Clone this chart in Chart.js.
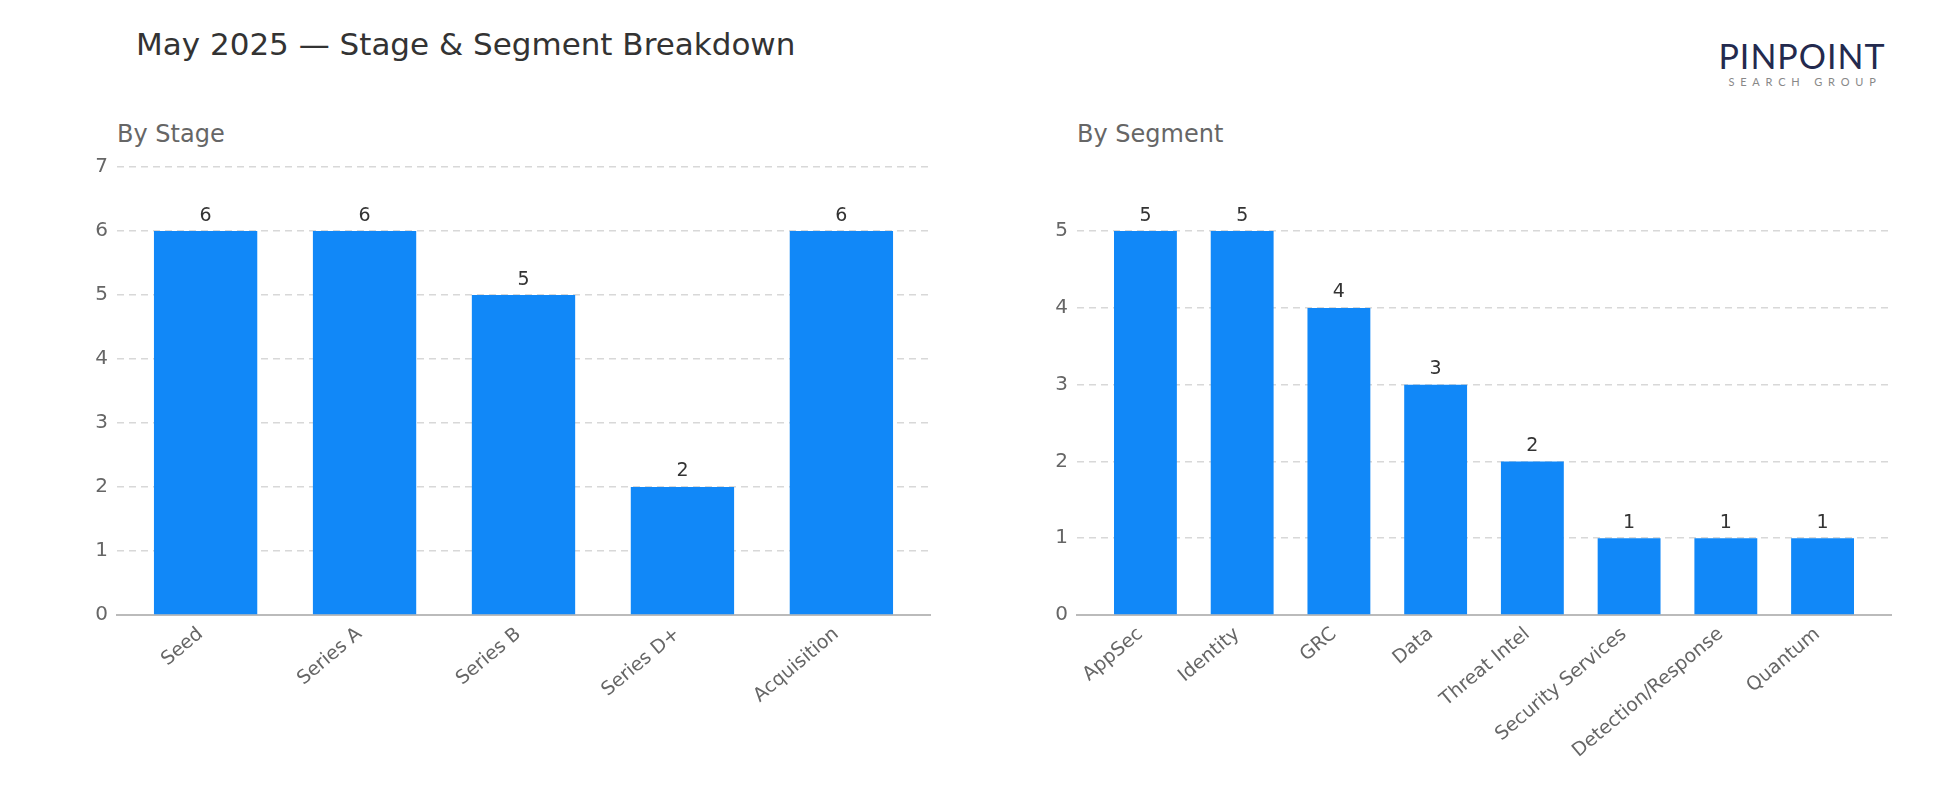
<!DOCTYPE html>
<html>
<head>
<meta charset="utf-8">
<script src="https://cdn.jsdelivr.net/npm/chart.js@4.4.0/dist/chart.umd.min.js"></script>
<style>
  body { margin: 0; background: #fff; width: 1950px; height: 810px; overflow: hidden; position: relative; font-family: "DejaVu Sans", sans-serif; }
  .box { position: absolute; }
  #title { left: 136px; top: 29px; font-size: 31px; color: #333; line-height: 31px; white-space: nowrap; }
  .sub { font-size: 24px; color: #666; line-height: 24px; white-space: nowrap; }
  #logo { left: 1716px; top: 39px; width: 172px; text-align: center; }
  #logo .big { font-family: "Lato", sans-serif; font-weight: 400; font-size: 34px; color: #232a4e; letter-spacing: 1px; line-height: 34px; }
  #logo .small { font-family: "Lato", sans-serif; font-size: 11px; color: #888; letter-spacing: 5.8px; line-height: 12px; margin-top: 3px; padding-left: 6px; }
</style>
</head>
<body>
<div id="title" class="box">May 2025 — Stage &amp; Segment Breakdown</div>
<div class="box sub" style="left:117px; top:122px;">By Stage</div>
<div class="box sub" style="left:1077px; top:122px;">By Segment</div>
<div id="logo" class="box"><div class="big">PINPOINT</div><div class="small">SEARCH GROUP</div></div>
<div class="box" style="left:0; top:0; width:960px; height:810px;"><canvas id="c1"></canvas></div>
<div class="box" style="left:960px; top:0; width:990px; height:810px;"><canvas id="c2"></canvas></div>
<script>
// by stage
var stageLabels = ["Seed", "Series A", "Series B", "Series D+", "Acquisition"];
var stageCounts = [6, 6, 5, 2, 6];
// by segment
var segmentLabels = ["AppSec", "Identity", "GRC", "Data", "Threat Intel", "Security Services", "Detection/Response", "Quantum"];
var segmentCounts = [5, 5, 4, 3, 2, 1, 1, 1];

var barColor = "#1188f8";
var barWidth = 0.65;

// value labels above each bar
var valueLabels = {
  id: "valueLabels",
  afterDatasetsDraw: function(chart) {
    var ctx = chart.ctx;
    var meta = chart.getDatasetMeta(0);
    var ds = chart.data.datasets[0];
    ctx.save();
    ctx.font = "19px 'DejaVu Sans'";
    ctx.fillStyle = "#333";
    ctx.textAlign = "center";
    ctx.textBaseline = "bottom";
    meta.data.forEach(function(bar, i) {
      ctx.fillText(ds.data[i].y, bar.x, bar.y - 6);
    });
    ctx.restore();
  }
};

function makeChart(id, labels, counts, padRight) {
  var n = labels.length;
  var span = (n - 1) + barWidth;
  var lo = -barWidth / 2 - 0.05 * span;
  var hi = (n - 1) + barWidth / 2 + 0.05 * span;
  var yMax = Math.max.apply(null, counts) * 1.18;
  var pts = counts.map(function(v, i) { return { x: i, y: v }; });

  return new Chart(document.getElementById(id), {
    type: "bar",
    data: {
      datasets: [{
        data: pts,
        backgroundColor: barColor,
        borderWidth: 0,
        barPercentage: barWidth,
        categoryPercentage: 1
      }]
    },
    options: {
      responsive: true,
      maintainAspectRatio: false,
      animation: false,
      layout: { padding: { left: 0, top: 162, right: padRight, bottom: 0 } },
      plugins: { legend: { display: false }, tooltip: { enabled: false } },
      scales: {
        x: {
          type: "linear",
          offset: false,
          min: lo,
          max: hi,
          grid: { display: false, drawTicks: false, offset: false },
          border: { display: true, color: "#bbb", width: 2 },
          afterBuildTicks: function(s) {
            s.ticks = labels.map(function(l, i) { return { value: i }; });
          },
          afterFit: function(s) { s.height = 195; },
          ticks: {
            autoSkip: false,
            minRotation: 40,
            maxRotation: 40,
            padding: 8,
            labelOffset: -5,
            color: "#666",
            font: { family: "DejaVu Sans", size: 19 },
            callback: function(v) { return labels[v]; }
          }
        },
        y: {
          min: 0,
          max: yMax,
          grid: { color: "#d8d8d8", lineWidth: 1.5, drawTicks: false },
          border: { display: false, dash: [7, 5] },
          afterBuildTicks: function(s) {
            var t = [];
            for (var v = 0; v <= Math.floor(s.max); v++) t.push({ value: v });
            s.ticks = t;
          },
          afterFit: function(s) { s.width = 117; },
          ticks: {
            stepSize: 1,
            padding: 9,
            color: "#666",
            font: { family: "DejaVu Sans", size: 20 }
          }
        }
      }
    },
    plugins: [valueLabels]
  });
}

makeChart("c1", stageLabels, stageCounts, 30);
makeChart("c2", segmentLabels, segmentCounts, 59);
</script>
</body>
</html>
